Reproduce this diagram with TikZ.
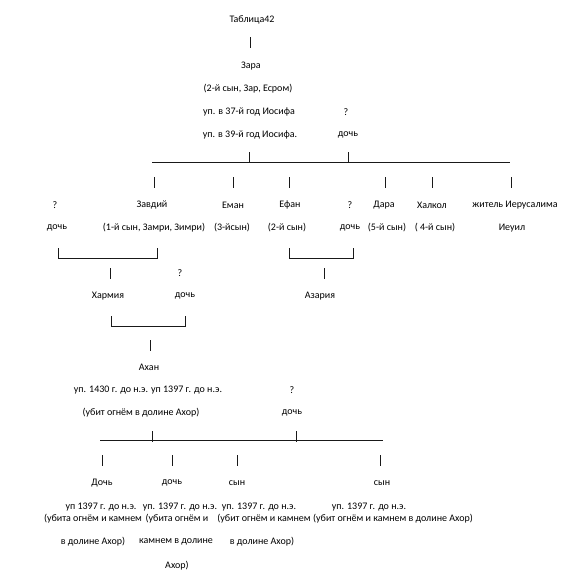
\documentclass[tikz,border=0pt]{standalone}
\usepackage{fontspec}
\setmainfont{Carlito}
\usetikzlibrary{positioning}

\begin{document}
\begin{tikzpicture}[
  x=1pt, y=-1pt,
  font=\fontsize{10}{12}\selectfont,
  txt/.style={inner sep=0pt, anchor=center},
  tick/.style={black!90, line width=0.55pt},
  bar/.style={black!90, line width=0.55pt}
]
  \useasboundingbox (0,0) rectangle (570,582);

  % ===========================================================
  % Zara and his wife
  % ===========================================================
  \node[txt] (tab)   at (252, 20) {Таблица42};
  \node[txt] (zara)  at (251, 66) {Зара};
  \node[txt] (zara1) at (248, 89) {(2-й сын, Зар, Есром)};
  \node[txt] (zara2) at (249,112) {уп. в 37-й год Иосифа};
  \node[txt] (zara3) at (250,135) {уп. в 39-й год Иосифа.};
  \node[txt] (wq)    at (346,112) {?};
  \node[txt] (w)     at (348,135) {дочь};

  \draw[tick] (250,37) -- (250,48);

  % family bar of Zara
  \coordinate (zl) at (152,162);
  \coordinate (zr) at (510,162);
  \draw[bar] (zl) -- (zr);
  \draw[tick] (249,152) -- (249,163);
  \draw[tick] (348,152) -- (348,163);

  % ===========================================================
  % children of Zara
  % ===========================================================
  \node[txt] (q1)    at ( 55,205) {?};
  \node[txt] (d1)    at ( 57,228) {дочь};
  \node[txt] (zav)   at (152,205) {Завдий};
  \node[txt] (zav1)  at (154,228) {(1-й сын, Замри, Зимри)};
  \node[txt] (eman)  at (233,205) {Еман};
  \node[txt] (eman1) at (232,228) {(3-йсын)};
  \node[txt] (efan)  at (290,205) {Ефан};
  \node[txt] (efan1) at (287,228) {(2-й сын)};
  \node[txt] (q2)    at (350,205) {?};
  \node[txt] (d2)    at (350,228) {дочь};
  \node[txt] (dara)  at (384,205) {Дара};
  \node[txt] (dara1) at (387,228) {(5-й сын)};
  \node[txt] (halk)  at (432,205) {Халкол};
  \node[txt] (halk1) at (435,228) {( 4-й сын)};
  \node[txt] (jer)   at (515,205) {житель Иерусалима};
  \node[txt] (ieuil) at (512,228) {Иеуил};

  \foreach \x in {154,233,289,385,432,511}
    \draw[tick] (\x,177) -- (\x,188);

  % couples
  \draw[tick] (58,248) -- (58,259);
  \draw[bar]  (58,258) -- (157,258);
  \draw[tick] (157,248) -- (157,259);

  \draw[tick] (289,248) -- (289,259);
  \draw[bar]  (289,258) -- (353,258);
  \draw[tick] (353,248) -- (353,259);

  % ===========================================================
  % grandchildren
  % ===========================================================
  \draw[tick] (110,268) -- (110,279);
  \draw[tick] (324,268) -- (324,279);
  \node[txt] (harm)  at (108,296) {Хармия};
  \node[txt] (q3)    at (180,273) {?};
  \node[txt] (d3)    at (185,296) {дочь};
  \node[txt] (azar)  at (320,296) {Азария};

  \draw[tick] (111,316) -- (111,327);
  \draw[bar]  (111,326) -- (185,326);
  \draw[tick] (185,316) -- (185,327);
  \draw[tick] (150,340) -- (150,351);

  % ===========================================================
  % Achan
  % ===========================================================
  \node[txt] (ahan)  at (149,367) {Ахан};
  \node[txt] (ahan1) at (148,390) {уп. 1430 г. до н.э. уп 1397 г. до н.э.};
  \node[txt] (ahan2) at (141,413) {(убит огнём в долине Ахор)};
  \node[txt] (q4)    at (292,390) {?};
  \node[txt] (d4)    at (292,413) {дочь};

  \coordinate (al) at (100,440);
  \coordinate (ar) at (383,440);
  \draw[bar] (al) -- (ar);
  \draw[tick] (152,431) -- (152,442);
  \draw[tick] (296,431) -- (296,442);

  \foreach \x in {102,172,237,380}
    \draw[tick] (\x,455) -- (\x,466);

  % ===========================================================
  % children of Achan
  % ===========================================================
  \node[txt] (c1)  at (102,483) {Дочь};
  \node[txt] (c2)  at (172,483) {дочь};
  \node[txt] (c3)  at (237,483) {сын};
  \node[txt] (c4)  at (382,483) {сын};

  \node[txt] (c1a) at (101,507) {уп 1397 г. до н.э.};
  \node[txt] (c1b) at ( 93,519) {(убита огнём и камнем};
  \node[txt] (c1c) at ( 93,542) {в долине Ахор)};

  \node[txt] (c2a) at (180,507) {уп. 1397 г. до н.э.};
  \node[txt] (c2b) at (177,519) {(убита огнём и};
  \node[txt] (c2c) at (176,542) {камнем в долине};
  \node[txt] (c2d) at (177,566) {Ахор)};

  \node[txt] (c3a) at (259,507) {уп. 1397 г. до н.э.};
  \node[txt] (c3b) at (264,519) {(убит огнём и камнем};
  \node[txt] (c3c) at (262,542) {в долине Ахор)};

  \node[txt] (c4a) at (369,507) {уп. 1397 г. до н.э.};
  \node[txt] (c4b) at (393,519) {(убит огнём и камнем в долине Ахор)};

\end{tikzpicture}
\end{document}
